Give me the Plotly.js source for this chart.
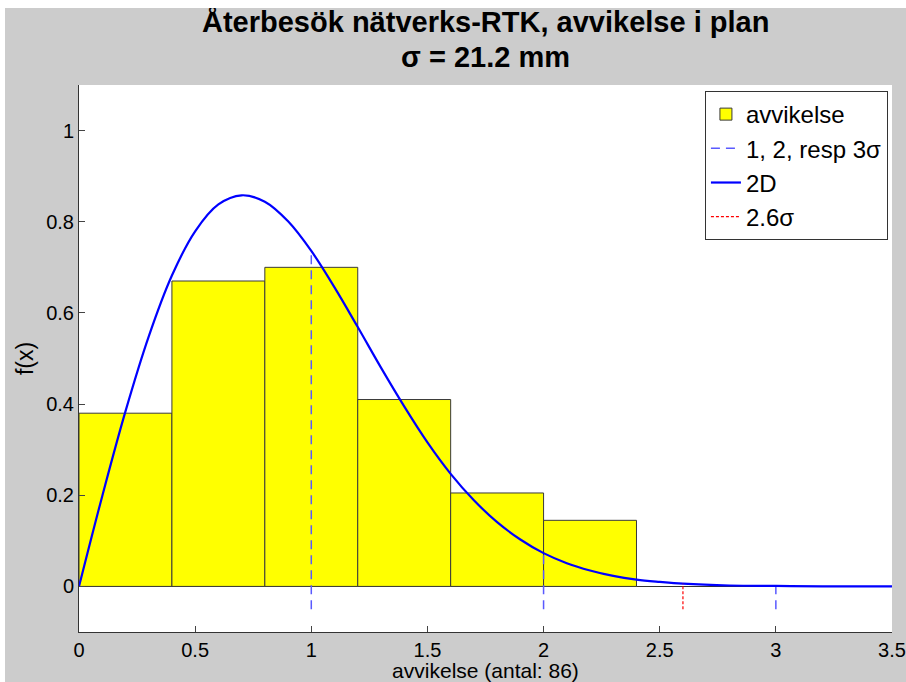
<!DOCTYPE html>
<html>
<head>
<meta charset="utf-8">
<script src="https://cdn.plot.ly/plotly-3.0.1.min.js"></script>
<style>
html,body{margin:0;padding:0;background:#ffffff;}
#chart{position:absolute;left:0;top:0;width:906px;height:682px;}
.strip{position:absolute;background:#ffffff;z-index:5;}
</style>
</head>
<body>
<div id="chart"></div>
<div class="strip" style="left:0;top:0;width:906px;height:8px;"></div>
<div class="strip" style="left:0;top:0;width:5px;height:682px;"></div>
<script>
// Histogram bins (centres) and normalised heights
const binCenters = [0.2, 0.6, 1.0, 1.4, 1.8, 2.2];
const binHeights = [0.38, 0.67, 0.70, 0.41, 0.205, 0.145];
const binWidth = 0.4;

// 2D curve, values
const curveX = [0, 0.1, 0.2, 0.3, 0.4, 0.5, 0.6, 0.7, 0.8, 0.9, 1.0, 1.1, 1.2, 1.3, 1.4, 1.5, 1.6, 1.7, 1.8, 1.9, 2.0, 2.1, 2.2, 2.3, 2.4, 2.5, 2.6, 2.8, 3.0, 3.2, 3.5];
const curveY = [0, 0.198, 0.384, 0.548, 0.682, 0.779, 0.838, 0.858, 0.844, 0.801, 0.736, 0.656, 0.569, 0.480, 0.395, 0.316, 0.247, 0.189, 0.141, 0.103, 0.073, 0.051, 0.035, 0.023, 0.015, 0.010, 0.006, 0.002, 0.001, 0.0003, 0];

// sigma marker lines
const sigmaX = [1, 2, 3];
const sigmaTop = [0.736, 0.073, 0.001];
const sigmaBottom = -0.05;
const redX = 2.6;
const redTop = 0.006;

const title1 = 'Återbesök nätverks-RTK, avvikelse i plan';
const title2 = 'σ = 21.2 mm';
const xTitle = 'avvikelse (antal: 86)';
const yTitle = 'f(x)';
const legendNames = ['avvikelse', '1, 2, resp 3σ', '2D', '2.6σ'];
const xTicks = [0, 0.5, 1, 1.5, 2, 2.5, 3, 3.5];
const xTickText = ['0', '0.5', '1', '1.5', '2', '2.5', '3', '3.5'];
const yTicks = [0, 0.2, 0.4, 0.6, 0.8, 1];
const yTickText = ['0', '0.2', '0.4', '0.6', '0.8', '1'];

const FONT = 'Liberation Sans, Arial, Helvetica, sans-serif';

// Build dashed segments
const sx = [], sy = [];
sigmaX.forEach((x, i) => { sx.push(x, x, null); sy.push(sigmaBottom, sigmaTop[i], null); });

const traces = [
  {
    type: 'bar', x: binCenters, y: binHeights, width: binWidth,
    name: legendNames[0],
    marker: {color: '#ffff00', line: {color: '#3a3a3a', width: 1}}
  },
  {
    type: 'scatter', mode: 'lines', x: sx, y: sy, connectgaps: false,
    name: legendNames[1],
    line: {color: '#5a5aff', width: 1.5, dash: '9px,6px'}
  },
  {
    type: 'scatter', mode: 'lines', x: curveX, y: curveY,
    name: legendNames[2], line: {color: '#0000ff', width: 2.2, shape: 'spline'}
  },
  {
    type: 'scatter', mode: 'lines', x: [redX, redX], y: [sigmaBottom, redTop],
    name: legendNames[3], line: {color: '#ff0000', width: 1.2, dash: '3px,2px'}
  }
];

const titleFont = {family: FONT, size: 29, color: '#000000', weight: 'bold'};

const layout = {
  width: 906, height: 682,
  paper_bgcolor: '#cccccc', plot_bgcolor: '#ffffff',
  margin: {l: 79, r: 14, t: 85, b: 50},
  showlegend: true,
  bargap: 0,
  font: {family: FONT, color: '#000000', size: 20},
  annotations: [
    {text: title1, font: titleFont, xref: 'paper', yref: 'paper', x: 0.5, y: 1.1152,
     xanchor: 'center', yanchor: 'middle', showarrow: false},
    {text: title2, font: titleFont, xref: 'paper', yref: 'paper', x: 0.5, y: 1.0512,
     xanchor: 'center', yanchor: 'middle', showarrow: false}
  ],
  xaxis: {
    range: [0, 3.5], tickvals: xTicks, ticktext: xTickText,
    ticks: 'inside', ticklen: 6, tickcolor: '#444444', tickwidth: 1,
    showline: true, linecolor: '#333333', linewidth: 1, mirror: false,
    showgrid: false, zeroline: false,
    tickfont: {family: FONT, size: 20, color: '#000000'},
    title: {text: xTitle, font: {family: FONT, size: 21, color: '#000000'}, standoff: 7}
  },
  yaxis: {
    range: [-0.1, 1.1], tickvals: yTicks, ticktext: yTickText,
    ticks: 'inside', ticklen: 6, tickcolor: '#444444', tickwidth: 1,
    showline: true, linecolor: '#333333', linewidth: 1, mirror: false,
    showgrid: false,
    zeroline: true, zerolinecolor: '#333333', zerolinewidth: 1,
    tickfont: {family: FONT, size: 20, color: '#000000'},
    title: {text: yTitle, font: {family: FONT, size: 23, color: '#000000'}, standoff: 6}
  },
  legend: {
    x: 0.995, y: 0.989, xanchor: 'right', yanchor: 'top',
    bgcolor: '#ffffff', bordercolor: '#333333', borderwidth: 1,
    font: {family: FONT, size: 24, color: '#000000'},
    traceorder: 'normal', tracegroupgap: 0, itemwidth: 30
  }
};

Plotly.newPlot('chart', traces, layout, {displayModeBar: false, staticPlot: true});
</script>
</body>
</html>
